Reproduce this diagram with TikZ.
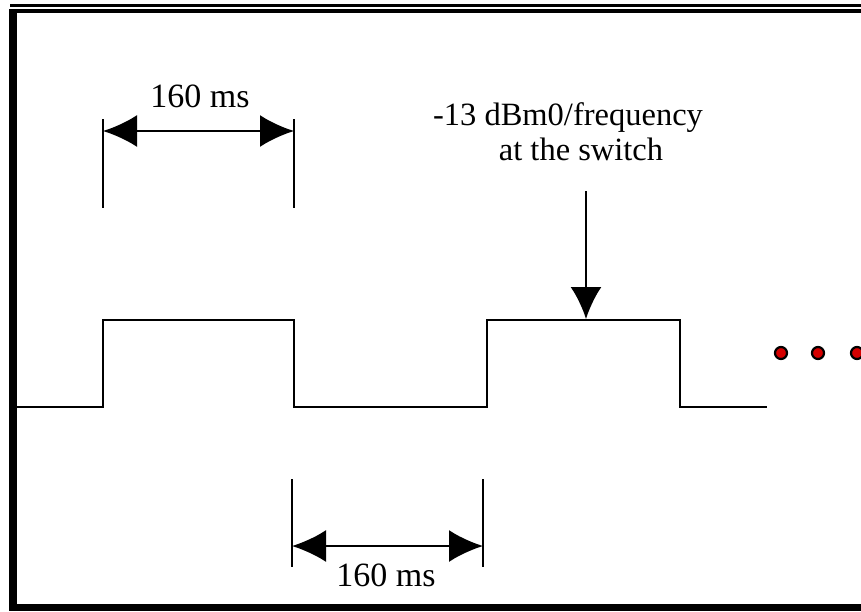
\documentclass[tikz,border=0pt]{standalone}
\usepackage{fontspec}
\setmainfont{Liberation Serif}
\usetikzlibrary{arrows.meta,positioning}
\definecolor{dotred}{RGB}{214,0,0}
\tikzset{
  sig/.style={line width=2.6pt},
  dimline/.style={line width=2.4pt},
  dimarrow/.style={line width=2.4pt,{Latex[length=34pt,width=32pt]}-{Latex[length=34pt,width=32pt]}},
  lbl/.style={font=\fontsize{34}{38}\selectfont,inner sep=0pt,anchor=base},
  dot/.style={circle,draw=black,line width=2.2pt,fill=dotred,minimum size=12pt,inner sep=0pt}
}

\begin{document}
\begin{tikzpicture}[x=1pt,y=-1pt]
  \useasboundingbox (0,0) rectangle (861,611);
  %\draw[color=gray,step=10pt,help lines,opacity=0.3] (0,0) grid (861,611); %help grid
  % frame
  \fill (10,4) rectangle (861,7);
  \fill (9,9) rectangle (861,12.5);
  \fill (9,9) rectangle (17,611);
  \fill (9,604) rectangle (861,611);
  % tone bursts
  \draw[sig] (17,407) -- (103,407) -- (103,320) -- (294,320) -- (294,407)
             -- (487,407) -- (487,320) -- (680,320) -- (680,407) -- (767,407);
  % on time
  \coordinate (ta) at (103,119);
  \coordinate (tb) at (103,208);
  \coordinate (tc) at (294,119);
  \coordinate (td) at (294,208);
  \coordinate (tl) at (103,131);
  \coordinate (tr) at (294,131);
  \draw[dimline] (ta) -- (tb);
  \draw[dimline] (tc) -- (td);
  \draw[dimarrow] (tl) -- (tr);
  \node[lbl] (ontime) at (200,107) {160 ms};
  % off time
  \coordinate (ba) at (292,479);
  \coordinate (bb) at (292,567);
  \coordinate (bc) at (483,479);
  \coordinate (bd) at (483,567);
  \coordinate (bl) at (292,546);
  \coordinate (br) at (483,546);
  \draw[dimline] (ba) -- (bb);
  \draw[dimline] (bc) -- (bd);
  \draw[dimarrow] (bl) -- (br);
  \node[lbl] (offtime) at (386,586) {160 ms};
  % level
  \node[lbl,font=\fontsize{32.5}{36}\selectfont] (level) at (568,125) {-13 dBm0/frequency};
  \node[lbl,font=\fontsize{32.5}{36}\selectfont] (switch) at (581,160) {at the switch};
  \coordinate (lv) at (586,191);
  \coordinate (hi) at (586,319);
  \draw[dimline,-{Latex[length=32pt,width=31pt]}] (lv) -- (hi);
  % and so on
  \foreach \x in {781,818,857}
    \node[dot] (d\x) at (\x,353) {};
\end{tikzpicture}
\end{document}
